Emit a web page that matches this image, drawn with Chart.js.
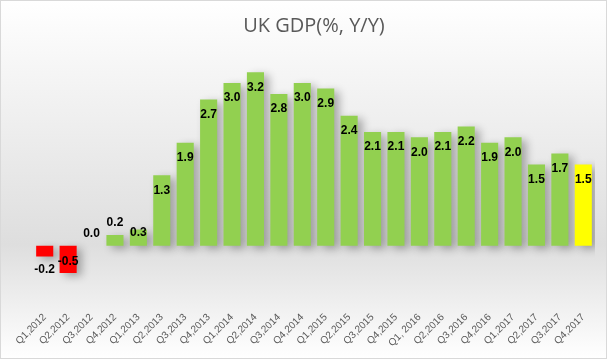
<!DOCTYPE html>
<html>
<head>
<meta charset="utf-8">
<script src="https://cdn.jsdelivr.net/npm/chart.js@4/dist/chart.umd.min.js"></script>
<style>
    html, body { margin: 0; padding: 0; background: #fff; }
    #wrap { width: 607px; height: 359px; }
</style>
</head>
<body>
<div id="wrap"><canvas id="gdpChart" width="607" height="359"></canvas></div>
<script>
// quarters and UK GDP y/y growth (%)
const quarters = [
    'Q1,2012', 'Q2,2012', 'Q3,2012', 'Q4,2012',
    'Q1,2013', 'Q2,2013', 'Q3,2013', 'Q4,2013',
    'Q1,2014', 'Q2,2014', 'Q3,2014', 'Q4,2014',
    'Q1,2015', 'Q2,2015', 'Q3,2015', 'Q4,2015',
    'Q1, 2016', 'Q2,2016', 'Q3,2016', 'Q4,2016',
    'Q1,2017', 'Q2,2017', 'Q3,2017', 'Q4,2017'
];
const gdpGrowth = [
    -0.2, -0.5, 0.0, 0.2,
    0.3, 1.3, 1.9, 2.7,
    3.0, 3.2, 2.8, 3.0,
    2.9, 2.4, 2.1, 2.1,
    2.0, 2.1, 2.2, 1.9,
    2.0, 1.5, 1.7, 1.5
];

function barColor(value, index) {
    if (index === gdpGrowth.length - 1) return '#FFFF00';
    return value < 0 ? '#FF0000' : '#92D050';
}

// background gradient + thin frame
const backgroundPlugin = {
    id: 'bg',
    beforeDraw(chart) {
        const ctx = chart.ctx;
        const h = chart.height;
        const grad = ctx.createLinearGradient(0, 0, 0, h);
        grad.addColorStop(0, '#ffffff');
        grad.addColorStop(0.68, '#dedede');
        grad.addColorStop(1, '#ffffff');
        ctx.save();
        ctx.fillStyle = grad;
        ctx.fillRect(0, 0, chart.width, h);
        ctx.strokeStyle = '#d9d9d9';
        ctx.lineWidth = 1;
        ctx.strokeRect(0.5, 0.5, chart.width - 1, h - 1);
        ctx.restore();
    }
};

// soft drop shadow behind the bars
const shadowPlugin = {
    id: 'barShadow',
    beforeDatasetsDraw(chart) {
        const ctx = chart.ctx;
        ctx.save();
        ctx.shadowColor = 'rgba(0, 0, 0, 0.3)';
        ctx.shadowBlur = 8;
        ctx.shadowOffsetX = 5;
        ctx.shadowOffsetY = 3;
    },
    afterDatasetsDraw(chart) {
        chart.ctx.restore();
    }
};

// value labels
const labelPlugin = {
    id: 'valueLabels',
    afterDatasetsDraw(chart) {
        const ctx = chart.ctx;
        const meta = chart.getDatasetMeta(0);
        ctx.save();
        ctx.font = 'bold 12px "Liberation Sans", Arial, sans-serif';
        ctx.fillStyle = '#000';
        ctx.textAlign = 'center';
        ctx.textBaseline = 'middle';
        meta.data.forEach((bar, i) => {
            const v = gdpGrowth[i];
            const zero = bar.base;
            let y;
            if (v < 0) {
                const h = bar.y - zero;
                y = h > 20 ? bar.y - 11 : bar.y + 13;
            } else {
                const h = zero - bar.y;
                if (h > 40) y = bar.y + 15;
                else if (h > 14) y = bar.y + 3;
                else y = bar.y - 12;
            }
            ctx.fillText(v.toFixed(1), bar.x, y);
        });
        ctx.restore();
    }
};

const ctx = document.getElementById('gdpChart').getContext('2d');
new Chart(ctx, {
    type: 'bar',
    data: {
        labels: quarters,
        datasets: [{
            label: 'UK GDP',
            data: gdpGrowth,
            backgroundColor: gdpGrowth.map(barColor),
            borderWidth: 0,
            categoryPercentage: 1.0,
            barPercentage: 0.73
        }]
    },
    options: {
        responsive: false,
        animation: false,
        layout: {
            padding: { left: 33, right: 12, top: 0, bottom: 4 }
        },
        plugins: {
            legend: { display: false },
            tooltip: { enabled: false },
            title: {
                display: true,
                text: 'UK GDP(%, Y/Y)',
                color: '#595959',
                font: { family: '"Open Sans", "Liberation Sans", sans-serif', size: 20, weight: 'normal' },
                padding: { top: 14, bottom: 18 }
            }
        },
        scales: {
            x: {
                grid: { display: false, drawTicks: false },
                border: { display: false },
                ticks: {
                    color: '#595959',
                    font: { family: '"Liberation Sans", Arial, sans-serif', size: 10 },
                    minRotation: 45,
                    maxRotation: 45,
                    padding: 6,
                    autoSkip: false
                }
            },
            y: {
                display: false,
                min: -1.1,
                max: 3.5
            }
        }
    },
    plugins: [backgroundPlugin, shadowPlugin, labelPlugin]
});
</script>
</body>
</html>
